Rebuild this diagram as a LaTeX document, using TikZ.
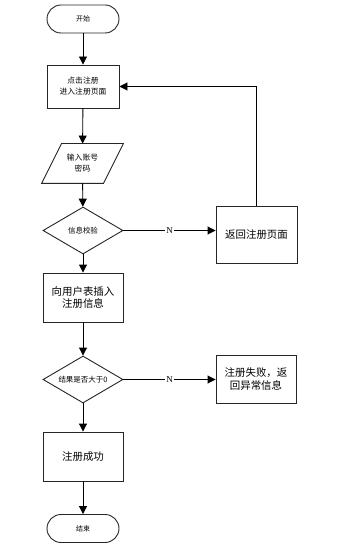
\documentclass[tikz,border=0pt]{standalone}
\usepackage{fontspec}
\setmainfont{Noto Sans CJK SC}
\newfontfamily\latinserif{Liberation Serif}
\usetikzlibrary{shapes.geometric,arrows.meta}
\begin{document}
\begin{tikzpicture}[x=1bp,y=-1bp,
  line width=0.9bp,
  term/.style={draw=black!85,rectangle,rounded corners=14bp,minimum width=72bp,minimum height=28bp,inner sep=0pt,font=\fontsize{7}{8}\selectfont},
  procbox/.style={draw=black!85,rectangle,inner sep=0pt,align=center},
  decision/.style={draw=black!85,diamond,aspect=1.7,minimum width=80bp,minimum height=47bp,inner sep=0pt,font=\fontsize{7.5}{9}\selectfont},
  flow/.style={-{Triangle[length=8bp,width=8bp]},black},
  lbl/.style={fill=white,inner sep=1bp,font=\latinserif\fontsize{9}{10}\selectfont}
]
\useasboundingbox (0,0) rectangle (345,549);
\fill[white] (0,0) rectangle (345,549);

\node[term] (start) at (83,19) {开始};
\node[procbox,minimum width=72bp,minimum height=43bp,font=\fontsize{7.8}{11}\selectfont] (b1) at (83,86.5) {点击注册\\进入注册页面};
\node[minimum width=61bp,minimum height=39bp,inner sep=0pt,align=center,font=\fontsize{7.8}{11}\selectfont] (io) at (82.5,163.5) {输入账号\\密码};
\draw[black!85] ([xshift=10bp]io.north west) -- ([xshift=10bp]io.north east) -- ([xshift=-10bp]io.south east) -- ([xshift=-10bp]io.south west) -- cycle;
\node[decision] (d1) at (83,230.5) {信息校验};
\node[procbox,minimum width=81bp,minimum height=57bp,font=\fontsize{10.5}{12}\selectfont] (r1) at (256.5,234.5) {返回注册页面};
\node[procbox,minimum width=80bp,minimum height=49bp,font=\fontsize{10.5}{11.5}\selectfont] (b2) at (83,297.5) {向用户表插入\\注册信息};
\node[decision] (d2) at (83,379.5) {结果是否大于0};
\node[procbox,minimum width=80bp,minimum height=48bp,font=\fontsize{10.5}{13}\selectfont] (r2) at (256,379) {注册失败，返\\回异常信息};
\node[procbox,minimum width=80bp,minimum height=49bp,font=\fontsize{10.5}{12}\selectfont] (b3) at (83,456.5) {注册成功};
\node[term] (end) at (83,528.5) {结束};

\draw[flow] (start) -- (b1);
\draw[flow] (b1) -- (io);
\draw[flow] (io) -- (d1);
\draw[flow] (d1) -- (b2);
\draw[flow] (b2) -- (d2);
\draw[flow] (d2) -- (b3);
\draw[flow] (b3) -- (end);
\draw[flow] (d1.east) -- node[lbl] {N} (d1.east -| r1.west);
\draw[flow] (d2.east) -- node[lbl] {N} (d2.east -| r2.west);
\draw[flow] (r1.north) |- (b1.east);
\end{tikzpicture}
\end{document}
